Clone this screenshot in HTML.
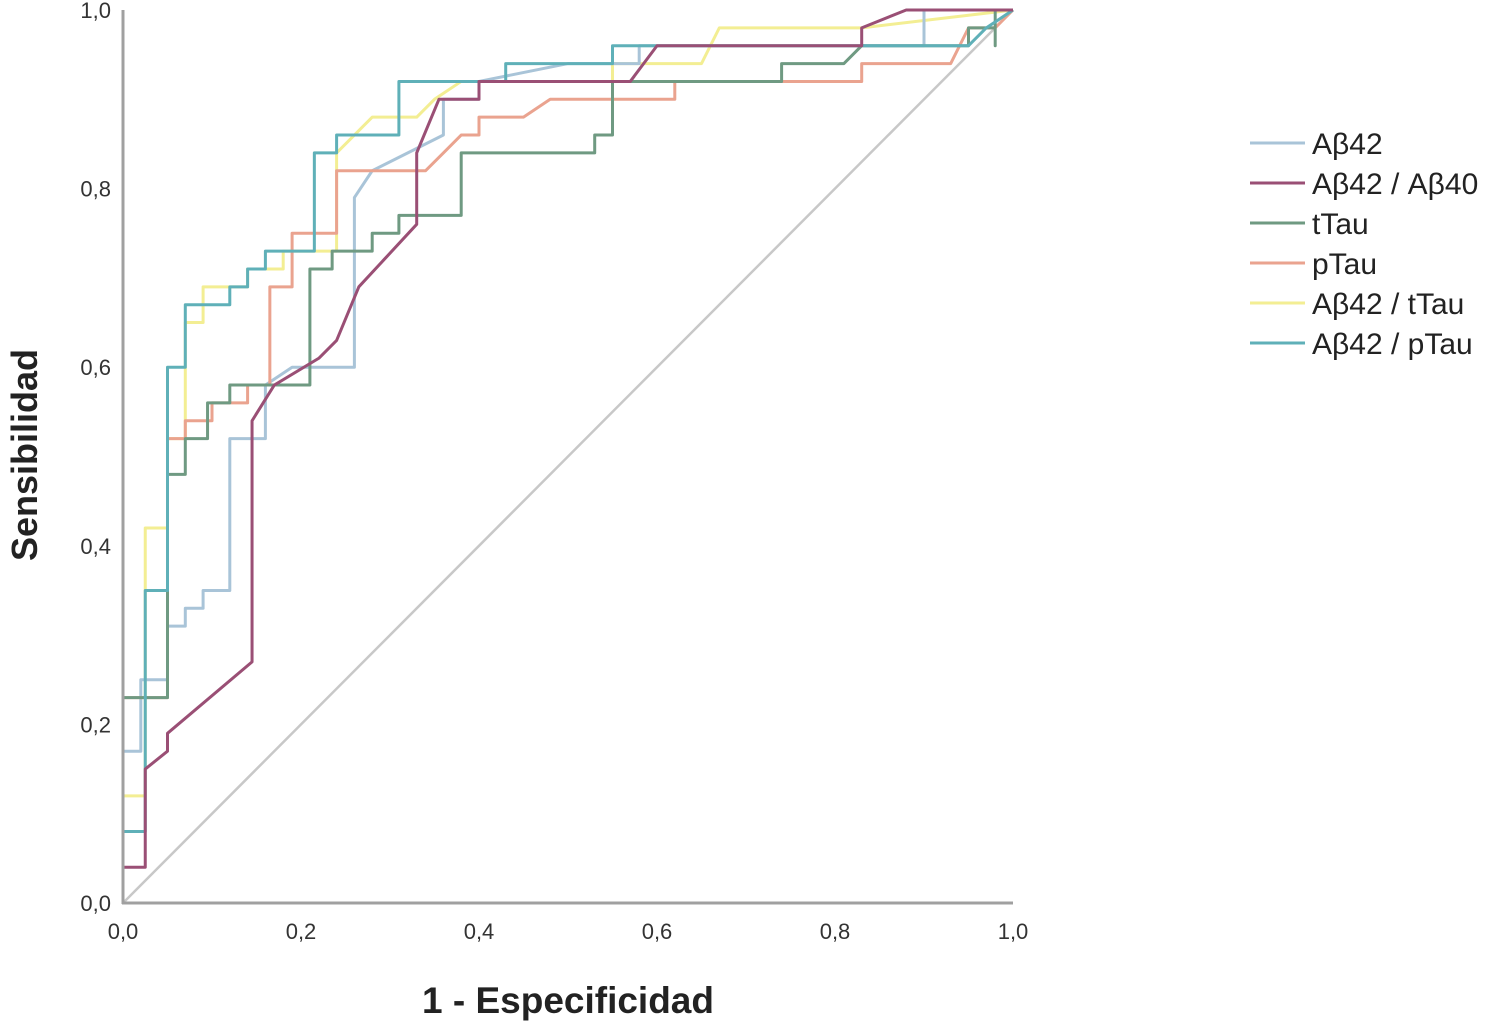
<!DOCTYPE html>
<html><head><meta charset="utf-8"><style>
body{margin:0;background:#fff;}
svg text{font-family:"Liberation Sans",Arial,sans-serif;}
</style></head><body>
<svg id="chart" width="1508" height="1031" viewBox="0 0 1508 1031" xmlns="http://www.w3.org/2000/svg">
<rect width="1508" height="1031" fill="#fff"/>
<g id="plot"></g>
<g id="axes"></g>
<g id="legend"></g>
<text transform="translate(37,455) rotate(-90)" text-anchor="middle" font-size="36" font-weight="bold" fill="#222">Sensibilidad</text>
<text x="568" y="1013" text-anchor="middle" font-size="37" font-weight="bold" fill="#222">1 - Especificidad</text>
</svg>
<script>
const seriesNames = ["Aβ42","Aβ42 / Aβ40","tTau","pTau","Aβ42 / tTau","Aβ42 / pTau"];
const tickLabels = ["0,0","0,2","0,4","0,6","0,8","1,0"];
const tickValues = [0,0.2,0.4,0.6,0.8,1.0];
const ab42 = [[0,0],[0,0.17],[0.02,0.17],[0.02,0.25],[0.05,0.25],[0.05,0.31],[0.07,0.31],[0.07,0.33],[0.09,0.33],[0.09,0.35],[0.12,0.35],[0.12,0.52],[0.16,0.52],[0.16,0.58],[0.19,0.6],[0.26,0.6],[0.26,0.79],[0.28,0.82],[0.32,0.84],[0.36,0.86],[0.36,0.9],[0.4,0.9],[0.4,0.92],[0.5,0.94],[0.58,0.94],[0.58,0.96],[0.9,0.96],[0.9,1],[1,1]];
const ab4240 = [[0,0],[0,0.04],[0.025,0.04],[0.025,0.15],[0.05,0.17],[0.05,0.19],[0.145,0.27],[0.145,0.54],[0.17,0.58],[0.22,0.61],[0.24,0.63],[0.265,0.69],[0.33,0.76],[0.33,0.84],[0.355,0.9],[0.4,0.9],[0.4,0.92],[0.57,0.92],[0.6,0.96],[0.83,0.96],[0.83,0.98],[0.88,1],[1,1]];
const ttau = [[0,0],[0,0.23],[0.05,0.23],[0.05,0.48],[0.07,0.48],[0.07,0.52],[0.095,0.52],[0.095,0.56],[0.12,0.56],[0.12,0.58],[0.21,0.58],[0.21,0.71],[0.235,0.71],[0.235,0.73],[0.28,0.73],[0.28,0.75],[0.31,0.75],[0.31,0.77],[0.38,0.77],[0.38,0.84],[0.53,0.84],[0.53,0.86],[0.55,0.86],[0.55,0.92],[0.74,0.92],[0.74,0.94],[0.81,0.94],[0.83,0.96],[0.95,0.96],[0.95,0.98],[0.98,0.98],[0.98,0.96],[0.98,1],[1,1]];
const ptau = [[0,0],[0,0.23],[0.05,0.23],[0.05,0.52],[0.07,0.52],[0.07,0.54],[0.1,0.54],[0.1,0.56],[0.14,0.56],[0.14,0.58],[0.165,0.58],[0.165,0.69],[0.19,0.69],[0.19,0.75],[0.24,0.75],[0.24,0.82],[0.34,0.82],[0.36,0.84],[0.38,0.86],[0.4,0.86],[0.4,0.88],[0.45,0.88],[0.48,0.9],[0.62,0.9],[0.62,0.92],[0.83,0.92],[0.83,0.94],[0.93,0.94],[0.95,0.98],[0.98,0.98],[1,1]];
const abttau = [[0,0],[0,0.12],[0.025,0.12],[0.025,0.42],[0.05,0.42],[0.05,0.52],[0.07,0.52],[0.07,0.65],[0.09,0.65],[0.09,0.69],[0.14,0.69],[0.14,0.71],[0.18,0.71],[0.18,0.73],[0.24,0.73],[0.24,0.84],[0.26,0.86],[0.28,0.88],[0.33,0.88],[0.35,0.9],[0.38,0.92],[0.55,0.92],[0.55,0.94],[0.65,0.94],[0.67,0.98],[0.83,0.98],[1,1]];
const abptau = [[0,0],[0,0.08],[0.025,0.08],[0.025,0.35],[0.05,0.35],[0.05,0.6],[0.07,0.6],[0.07,0.67],[0.12,0.67],[0.12,0.69],[0.14,0.69],[0.14,0.71],[0.16,0.71],[0.16,0.73],[0.215,0.73],[0.215,0.84],[0.24,0.84],[0.24,0.86],[0.31,0.86],[0.31,0.92],[0.43,0.92],[0.43,0.94],[0.55,0.94],[0.55,0.96],[0.95,0.96],[0.97,0.98],[1,1]];
const allSeries = [ab42, ab4240, ttau, ptau, abttau, abptau];
const colors = ["#a9c4d8","#9a4f75","#6f9a82","#eaa38f","#f3ee93","#5fb0b8"];
const slugs = ["ab42","ab42-ab40","ttau","ptau","ab42-ttau","ab42-ptau"];
const NS="http://www.w3.org/2000/svg";
const X0=123,X1=1013,Y0=903,Y1=10;
const sx=v=>X0+v*(X1-X0), sy=v=>Y0-v*(Y0-Y1);
const plot=document.getElementById('plot'), axes=document.getElementById('axes'), legend=document.getElementById('legend');
function mk(tag,attrs,parent){const e=document.createElementNS(NS,tag);for(const k in attrs)e.setAttribute(k,attrs[k]);parent.appendChild(e);return e;}
const diag=mk('line',{x1:sx(0),y1:sy(0),x2:sx(1),y2:sy(1),stroke:'#c8c8c8','stroke-width':2.5},plot);


const order=[4,0,3,2,5,1];
order.forEach(i=>{
  const p=mk('polyline',{points:allSeries[i].map(d=>sx(d[0])+','+sy(d[1])).join(' '),fill:'none',stroke:colors[i],'stroke-width':3,'stroke-linejoin':'round'},plot);
  
  
});
const ya=mk('line',{x1:X0,y1:Y1,x2:X0,y2:Y0+1,stroke:'#a0a0a0','stroke-width':3},axes);


const xa=mk('line',{x1:X0-1,y1:Y0,x2:X1,y2:Y0,stroke:'#a0a0a0','stroke-width':3},axes);


tickValues.forEach((v,i)=>{
  const t=mk('text',{x:111,y:sy(v)+8,'text-anchor':'end','font-size':22,fill:'#333'},axes);
  t.textContent=tickLabels[i];
  
  
  const u=mk('text',{x:sx(v),y:939,'text-anchor':'middle','font-size':22,fill:'#333'},axes);
  u.textContent=tickLabels[i];
  
  
});
seriesNames.forEach((n,i)=>{
  const y=143+i*40;
  const g=mk('g',{},legend);
  
  
  mk('line',{x1:1250,y1:y,x2:1305,y2:y,stroke:colors[i],'stroke-width':3},g);
  const t=mk('text',{x:1312,y:y+11,'font-size':30,fill:'#222'},g);
  t.textContent=n;
});
</script>
</body></html>
